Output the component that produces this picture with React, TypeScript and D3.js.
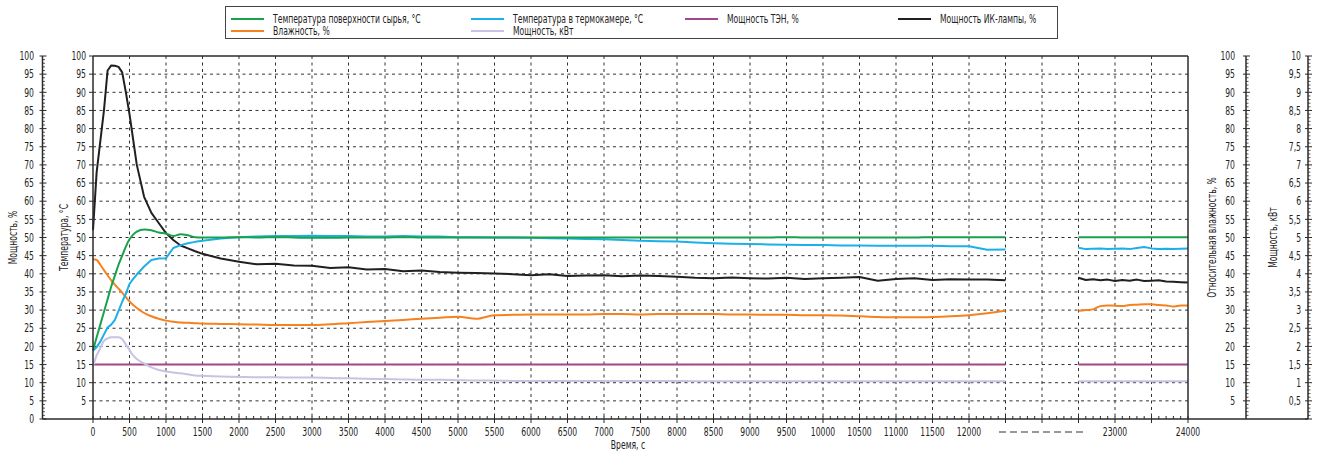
import React from "react";
import * as d3 from "d3";

// sampling grid, seconds (first part of the run, then the late window after the break)
const timeEarly = [
  0, 50, 100, 150, 200, 250, 300, 350, 400, 450, 500, 550, 600, 700, 800, 900, 1000, 1100, 1200, 1300, 1400, 1500,
  1750, 2000, 2250, 2500, 2750, 3000, 3250, 3500, 3750, 4000, 4250, 4500, 4750, 5000, 5250, 5500,
  5750, 6000, 6250, 6500, 6750, 7000, 7250, 7500, 7750, 8000, 8250, 8500, 8750, 9000, 9250, 9500,
  9750, 10000, 10250, 10500, 10750, 11000, 11250, 11500, 11750, 12000, 12250, 12500,
];
const timeLate = [22500, 22600, 22700, 22800, 22900, 23000, 23100, 23200, 23300, 23400, 23500, 23600, 23700, 23800, 23900, 24000];

// surface temperature, °C
const surfaceEarly = [
  19, 22.5, 26, 29.5, 33, 36.5, 39.5, 42.5, 45, 47.5, 49.5, 50.8, 51.6, 52.2, 52, 51.4, 51.1, 50.4, 50.9, 50.6, 50.1, 50,
  50, 50.1, 50, 50.1, 50, 49.9, 49.9, 50, 50, 50, 50.1, 50, 50, 50, 50, 50,
  50, 50, 50, 50, 50, 50, 50, 50, 50, 50, 50, 50, 50, 50, 50, 50.1,
  50, 50, 50, 50, 50, 50, 50, 50.1, 50.1, 50.1, 50.1, 50.1,
];
const surfaceLate = [50.1, 50.1, 50.1, 50.1, 50.1, 50.1, 50.1, 50.1, 50.1, 50.1, 50.1, 50.1, 50.1, 50.1, 50.1, 50.1];

// chamber temperature, °C
const chamberEarly = [
  18.8, 19.8, 21.3, 23.3, 25.2, 26, 27.3, 29.8, 32.3, 34.5, 37.2, 38.6, 39.8, 42, 43.8, 44.2, 44.3, 47.1, 47.9, 48.4, 48.8, 49.1,
  49.7, 50.1, 50.3, 50.4, 50.4, 50.5, 50.4, 50.4, 50.3, 50.3, 50.4, 50.3, 50.3, 50.1, 50.1, 50,
  50, 49.9, 49.8, 49.7, 49.6, 49.5, 49.3, 49.1, 49, 48.9, 48.6, 48.4, 48.3, 48.2, 48.1, 48,
  47.9, 47.9, 47.8, 47.8, 47.7, 47.7, 47.7, 47.7, 47.6, 47.6, 46.6, 46.7,
];
const chamberLate = [47.2, 46.8, 46.9, 47.0, 46.8, 46.9, 47.0, 46.8, 47.1, 47.4, 47.0, 46.8, 46.9, 46.8, 46.9, 47.0];

// heater (ТЭН) power, %
const heaterEarly = [
  15, 15, 15, 15, 15, 15, 15, 15, 15, 15, 15, 15, 15, 15, 15, 15, 15, 15, 15, 15, 15, 15,
  15, 15, 15, 15, 15, 15, 15, 15, 15, 15, 15, 15, 15, 15, 15, 15,
  15, 15, 15, 15, 15, 15, 15, 15, 15, 15, 15, 15, 15, 15, 15, 15,
  15, 15, 15, 15, 15, 15, 15, 15, 15, 15, 15, 15,
];
const heaterLate = [15, 15, 15, 15, 15, 15, 15, 15, 15, 15, 15, 15, 15, 15, 15, 15];

// IR lamp power, %
const lampEarly = [
  52, 68, 76.5, 85, 96, 97.4, 97.3, 97, 95.5, 90, 84, 77, 70, 61.2, 56.8, 54, 51.2, 49.3, 47.8, 47, 46.2, 45.5,
  44.2, 43.3, 42.6, 42.8, 42.3, 42.2, 41.6, 41.8, 41.2, 41.3, 40.7, 40.9, 40.5, 40.3, 40.2, 40.1,
  39.9, 39.6, 39.9, 39.4, 39.5, 39.6, 39.3, 39.5, 39.4, 39.2, 38.9, 38.8, 39.0, 38.8, 38.7, 38.9,
  38.6, 38.8, 38.9, 39.1, 38.1, 38.6, 38.8, 38.3, 38.5, 38.4, 38.4, 38.2,
];
const lampLate = [38.9, 38.3, 38.5, 38.2, 38.4, 38.0, 38.3, 38.1, 38.4, 38.0, 38.1, 38.2, 37.9, 37.8, 37.7, 37.6];

// relative humidity, %
const humidityEarly = [
  44, 43.8, 42.5, 41, 39.6, 38.2, 37, 35.9, 34.8, 33.6, 32.4, 31.4, 30.6, 29.2, 28.3, 27.6, 27.1, 26.8, 26.6, 26.5, 26.4, 26.3,
  26.2, 26.1, 26.0, 25.9, 25.9, 25.9, 26.1, 26.4, 26.7, 27.0, 27.3, 27.6, 27.9, 28.2, 27.6, 28.6,
  28.7, 28.8, 28.8, 28.8, 28.8, 28.9, 28.9, 28.8, 28.9, 28.9, 28.9, 28.9, 28.8, 28.8, 28.7, 28.7,
  28.6, 28.6, 28.5, 28.3, 28.1, 28.0, 28.0, 28.1, 28.3, 28.6, 29.1, 29.8,
];
const humidityLate = [29.8, 30.0, 30.2, 31.1, 31.3, 31.2, 31.1, 31.4, 31.5, 31.6, 31.6, 31.4, 31.3, 31.0, 31.3, 31.3];

// total power, kW
const powerEarly = [
  1.45, 1.75, 1.95, 2.15, 2.22, 2.25, 2.25, 2.25, 2.2, 2.05, 1.9, 1.75, 1.65, 1.53, 1.42, 1.35, 1.31, 1.28, 1.26, 1.23, 1.2, 1.19,
  1.17, 1.16, 1.15, 1.15, 1.14, 1.14, 1.13, 1.12, 1.11, 1.1, 1.09, 1.08, 1.08, 1.07, 1.06, 1.06,
  1.05, 1.05, 1.05, 1.05, 1.05, 1.05, 1.05, 1.05, 1.05, 1.05, 1.04, 1.04, 1.04, 1.04, 1.04, 1.04,
  1.04, 1.04, 1.04, 1.04, 1.04, 1.04, 1.04, 1.04, 1.04, 1.04, 1.04, 1.04,
];
const powerLate = [1.04, 1.04, 1.04, 1.04, 1.04, 1.04, 1.04, 1.04, 1.04, 1.04, 1.04, 1.04, 1.04, 1.04, 1.04, 1.04];

const xTickLabelsLate = [23000, 24000];
const leftTicks = d3.range(0, 101, 5);
const kwTicks = d3.range(0, 10.01, 0.5);

const FONT = "'DejaVu Sans Condensed', 'Liberation Sans', sans-serif";
const SQUEEZE = 0.71; // the original uses a narrow face, none is installed

type Series = {
  name: string;
  color: string;
  early: number[];
  late: number[];
  axis: "pct" | "kw";
  smooth: boolean;
};

const series: Series[] = [
  { name: "Мощность ТЭН, %", color: "#a3478c", early: heaterEarly, late: heaterLate, axis: "pct", smooth: true },
  { name: "Мощность, кВт", color: "#c6c3e3", early: powerEarly, late: powerLate, axis: "kw", smooth: true },
  { name: "Влажность, %", color: "#f5821f", early: humidityEarly, late: humidityLate, axis: "pct", smooth: true },
  { name: "Мощность ИК-лампы, %", color: "#231f20", early: lampEarly, late: lampLate, axis: "pct", smooth: false },
  { name: "Температура в термокамере, °C", color: "#1cb0e8", early: chamberEarly, late: chamberLate, axis: "pct", smooth: false },
  { name: "Температура поверхности сырья, °C", color: "#17a24b", early: surfaceEarly, late: surfaceLate, axis: "pct", smooth: true },
];

// legend slots (series name -> column/row)
const legendOrder = [
  "Температура поверхности сырья, °C",
  "Температура в термокамере, °C",
  "Мощность ТЭН, %",
  "Мощность ИК-лампы, %",
  "Влажность, %",
  "Мощность, кВт",
];

type LabelProps = {
  x: number;
  y: number;
  anchor?: "start" | "middle" | "end";
  rotate?: number;
  size?: number;
  children: React.ReactNode;
};

// text drawn with a horizontal squeeze to imitate the condensed face
const Label = ({ x, y, anchor = "start", rotate = 0, size = 12, children }: LabelProps) => (
  <g transform={`translate(${x},${y}) rotate(${rotate}) scale(${SQUEEZE},1)`}>
    <text dy="0.35em" textAnchor={anchor} fontSize={size} fill="#222">{children}</text>
  </g>
);

export default function App() {
  const width = 1318;
  const height = 451;
  const plot = { left: 93, right: 1188, top: 56, bottom: 419 };
  const outerLeftX = 42.5;
  const rhX = 1246;
  const kwX = 1308;

  // 30 grid intervals; first 25 cover 0..12500 s, the break sits between 12500 and 22500
  const xIdx = d3.scaleLinear().domain([0, 30]).range([plot.left, plot.right]);
  const x = d3.scaleLinear()
    .domain([0, 12500, 22500, 24000])
    .range([xIdx(0), xIdx(25), xIdx(27), xIdx(30)]);
  const y = d3.scaleLinear().domain([0, 100]).range([plot.bottom, plot.top]);
  const yKw = d3.scaleLinear().domain([0, 10]).range([plot.bottom, plot.top]);

  const makeLine = (s: Series) => {
    const ys = s.axis === "kw" ? yKw : y;
    return d3.line<[number, number]>()
      .x(d => x(d[0]))
      .y(d => ys(d[1]))
      .curve(s.smooth ? d3.curveMonotoneX : d3.curveLinear);
  };

  const earlyTicks = d3.range(0, 12001, 500);
  const gridIdx = d3.range(1, 30);
  const minorX = d3.range(0, 150).filter(i => i % 5 !== 0).map(i => xIdx(i / 5));
  const minorY = d3.range(0, 101, 1).filter(v => v % 5 !== 0);

  const axisColor = "#2b2b2b";
  const legendCols = [231, 471, 685, 898];
  const legendRows = [19, 31];
  const midY = (plot.top + plot.bottom) / 2;

  const fmtKw = (v: number) => (v === 0 ? "" : d3.format("~g")(v).replace(".", ","));

  return (
    <svg width={width} height={height} style={{ position: "absolute", left: 0, top: 0, background: "#fff" }}
      fontFamily={FONT}>
      {/* legend */}
      <rect x={225.5} y={6.5} width={832} height={32} fill="#fff" stroke="#444" strokeWidth={1} />
      {legendOrder.map((name, i) => {
        const s = series.find(d => d.name === name)!;
        const lx = legendCols[i % 4];
        const ly = legendRows[Math.floor(i / 4)];
        return (
          <g key={name}>
            <line x1={lx} x2={lx + 33} y1={ly} y2={ly} stroke={s.color} strokeWidth={2} />
            <Label x={lx + 42} y={ly}>{name}</Label>
          </g>
        );
      })}

      {/* grid */}
      {leftTicks.filter(v => v > 0 && v < 100).map(v => (
        <line key={"h" + v} x1={plot.left} x2={plot.right} y1={y(v)} y2={y(v)}
          stroke="#333" strokeWidth={1} strokeDasharray="3,3.5" />
      ))}
      {gridIdx.map(i => (
        <line key={"v" + i} x1={xIdx(i)} x2={xIdx(i)} y1={plot.top} y2={plot.bottom}
          stroke="#333" strokeWidth={1} strokeDasharray="3,3.5" />
      ))}

      {/* series */}
      {series.map(s => {
        const line = makeLine(s);
        const early = timeEarly.map((t, i) => [t, s.early[i]] as [number, number]);
        const late = timeLate.map((t, i) => [t, s.late[i]] as [number, number]);
        return (
          <g key={s.name} fill="none" stroke={s.color} strokeWidth={2} strokeLinejoin="round">
            <path d={line(early) ?? ""} />
            <path d={line(late) ?? ""} />
          </g>
        );
      })}

      {/* frame */}
      <line x1={plot.left} x2={plot.right} y1={plot.top} y2={plot.top} stroke={axisColor} strokeWidth={1.5} />
      <line x1={plot.left} x2={plot.left} y1={plot.top} y2={plot.bottom} stroke={axisColor} strokeWidth={1.5} />
      <line x1={plot.right} x2={plot.right} y1={plot.top} y2={plot.bottom} stroke={axisColor} strokeWidth={1.5} />
      <line x1={outerLeftX} x2={kwX} y1={plot.bottom} y2={plot.bottom} stroke={axisColor} strokeWidth={1.5} />

      {/* x axis ticks */}
      {d3.range(0, 31).map(i => (
        <line key={"xt" + i} x1={xIdx(i)} x2={xIdx(i)} y1={plot.bottom - 3} y2={plot.bottom + 4}
          stroke={axisColor} strokeWidth={1} />
      ))}
      {minorX.map((px, i) => (
        <line key={"xm" + i} x1={px} x2={px} y1={plot.bottom - 3} y2={plot.bottom}
          stroke={axisColor} strokeWidth={1} />
      ))}
      {earlyTicks.map(t => (
        <Label key={"xl" + t} x={x(t)} y={432} anchor="middle">{t}</Label>
      ))}
      {xTickLabelsLate.map(t => (
        <Label key={"xl" + t} x={x(t)} y={432} anchor="middle">{t}</Label>
      ))}
      <line x1={999} x2={1083} y1={432} y2={432} stroke="#333" strokeWidth={1.2} strokeDasharray="7,4" />
      <Label x={628} y={445} anchor="middle">Время, с</Label>

      {/* outer left axis: power, % */}
      <line x1={outerLeftX} x2={outerLeftX} y1={plot.top} y2={plot.bottom} stroke={axisColor} strokeWidth={1.5} />
      {minorY.map(v => (
        <line key={"olm" + v} x1={outerLeftX} x2={outerLeftX + 2.5} y1={y(v)} y2={y(v)} stroke={axisColor} strokeWidth={0.8} />
      ))}
      {leftTicks.map(v => (
        <g key={"ol" + v}>
          <line x1={outerLeftX - 3} x2={outerLeftX + 4} y1={y(v)} y2={y(v)} stroke={axisColor} strokeWidth={1} />
          <Label x={34} y={y(v)} anchor="end">{v}</Label>
        </g>
      ))}
      <Label x={13} y={midY} anchor="middle" rotate={-90}>Мощность, %</Label>

      {/* inner left axis: temperature */}
      {leftTicks.filter(v => v > 0).map(v => (
        <g key={"il" + v}>
          <line x1={plot.left - 4} x2={plot.left} y1={y(v)} y2={y(v)} stroke={axisColor} strokeWidth={1} />
          <Label x={86} y={y(v)} anchor="end">{v}</Label>
        </g>
      ))}
      <Label x={64} y={midY} anchor="middle" rotate={-90}>Температура, °C</Label>

      {/* right axis: relative humidity */}
      <line x1={rhX} x2={rhX} y1={plot.top} y2={plot.bottom} stroke={axisColor} strokeWidth={1.5} />
      {minorY.map(v => (
        <line key={"rhm" + v} x1={rhX} x2={rhX + 2.5} y1={y(v)} y2={y(v)} stroke={axisColor} strokeWidth={0.8} />
      ))}
      {leftTicks.filter(v => v > 0).map(v => (
        <g key={"rh" + v}>
          <line x1={rhX - 3} x2={rhX + 4} y1={y(v)} y2={y(v)} stroke={axisColor} strokeWidth={1} />
          <Label x={1235} y={y(v)} anchor="end">{v}</Label>
        </g>
      ))}
      <Label x={1212} y={midY} anchor="middle" rotate={-90}>Относительная влажность, %</Label>

      {/* right axis: power, kW */}
      <line x1={kwX} x2={kwX} y1={plot.top} y2={plot.bottom} stroke={axisColor} strokeWidth={1.5} />
      {minorY.map(v => (
        <line key={"kwm" + v} x1={kwX} x2={kwX + 2.5} y1={y(v)} y2={y(v)} stroke={axisColor} strokeWidth={0.8} />
      ))}
      {kwTicks.map(v => (
        <g key={"kw" + v}>
          <line x1={kwX - 3} x2={kwX + 4} y1={yKw(v)} y2={yKw(v)} stroke={axisColor} strokeWidth={1} />
          <Label x={1301} y={yKw(v)} anchor="end">{fmtKw(v)}</Label>
        </g>
      ))}
      <Label x={1273} y={midY} anchor="middle" rotate={-90}>Мощность, кВт</Label>
    </svg>
  );
}
